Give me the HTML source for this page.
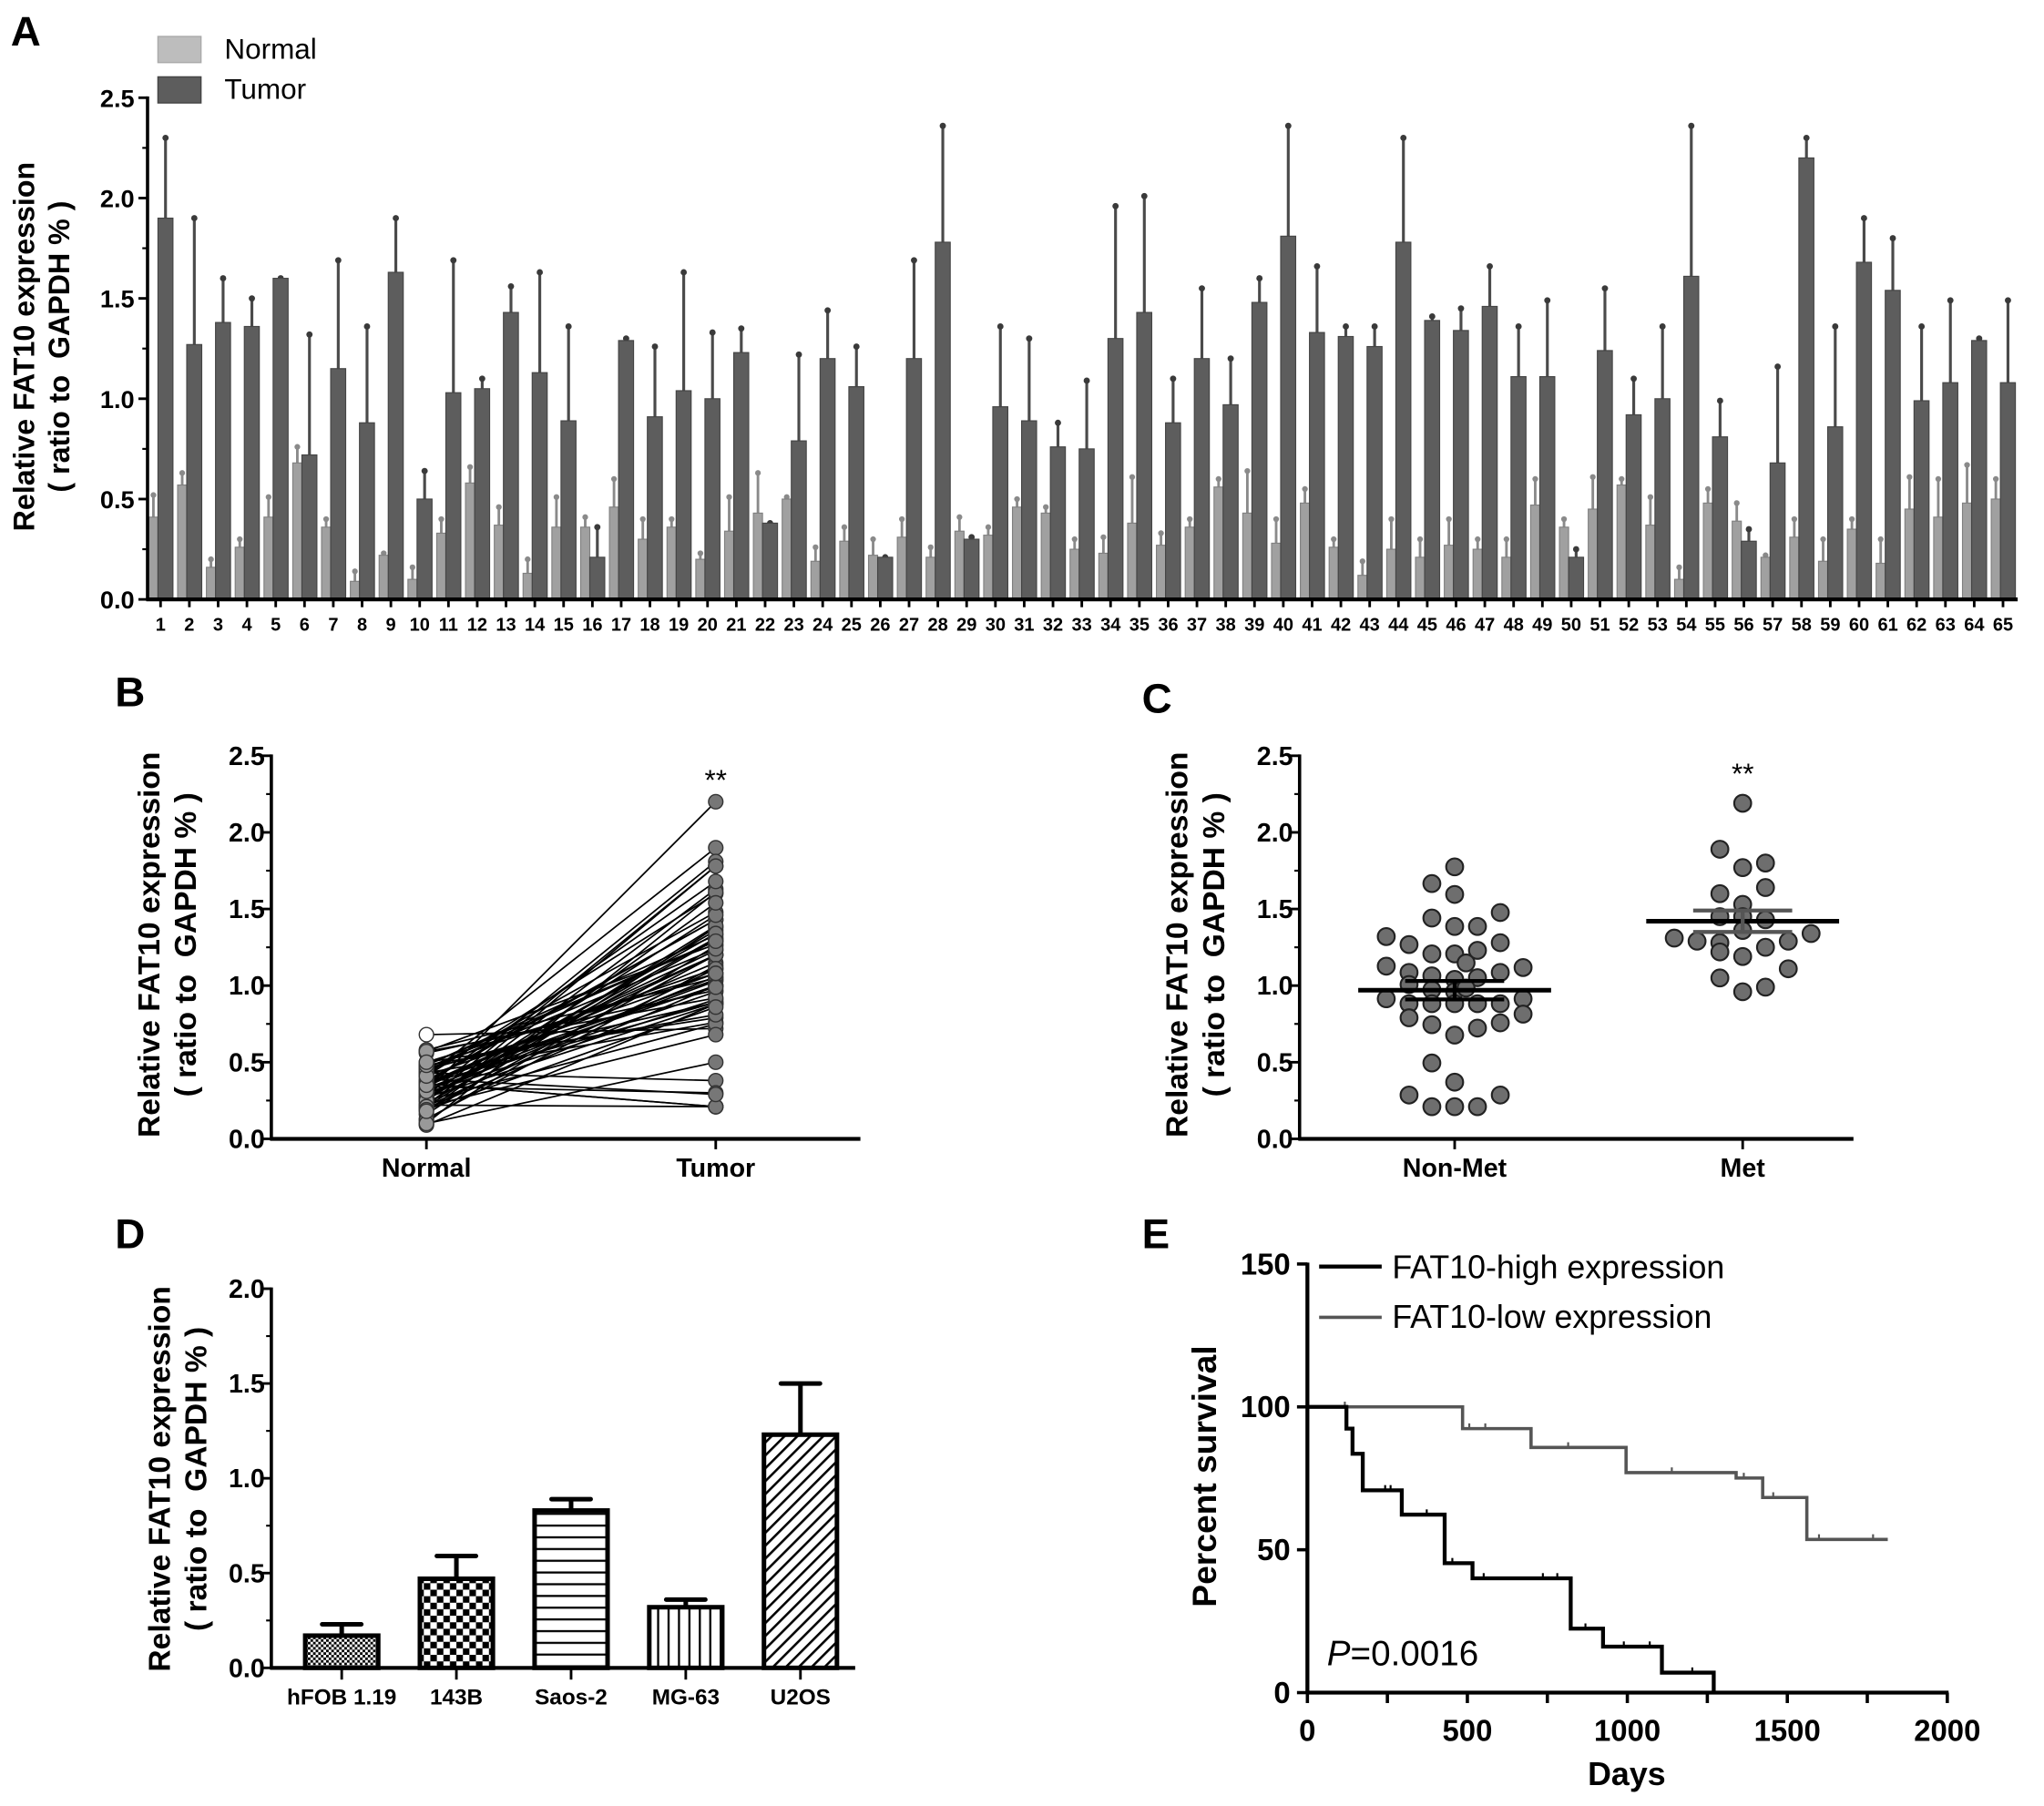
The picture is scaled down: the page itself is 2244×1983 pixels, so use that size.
<!DOCTYPE html>
<html><head><meta charset="utf-8"><style>
html,body{margin:0;padding:0;background:#fff;}
svg{display:block;}
text{font-family:"Liberation Sans",sans-serif;white-space:pre;}
.n{font-family:"Liberation Sans Narrow","Liberation Sans",sans-serif;font-weight:bold;}
</style></head><body>
<svg id="fig" width="2244" height="1983" viewBox="0 0 1568 1386" xmlns="http://www.w3.org/2000/svg">
<defs>
<pattern id="pDots" width="4" height="4" patternUnits="userSpaceOnUse"><rect width="4" height="4" fill="#fff"/><rect width="2" height="2" fill="#000"/><rect x="2" y="2" width="2" height="2" fill="#000"/></pattern>
<pattern id="pCheck" width="10" height="10" patternUnits="userSpaceOnUse"><rect width="10" height="10" fill="#fff"/><rect width="5" height="5" fill="#000"/><rect x="5" y="5" width="5" height="5" fill="#000"/></pattern>
<pattern id="pHor" width="10" height="9" patternUnits="userSpaceOnUse"><rect width="10" height="9" fill="#fff"/><rect y="0" width="10" height="1.6" fill="#000"/></pattern>
<pattern id="pVer" width="8" height="10" patternUnits="userSpaceOnUse"><rect width="8" height="10" fill="#fff"/><rect x="0" width="1.6" height="10" fill="#000"/></pattern>
<pattern id="pDiag" width="7" height="7" patternUnits="userSpaceOnUse" patternTransform="rotate(45)"><rect width="7" height="7" fill="#fff"/><rect width="1.8" height="7" fill="#000"/></pattern>
</defs>
<g id="root"></g>
</svg>
<script>
// ---------- Panel A data ----------
const aCats = Array.from({length:65},(_,i)=>String(i+1));
const aNormal = [0.41,0.57,0.16,0.26,0.41,0.68,0.36,0.09,0.22,0.10,0.33,0.58,0.37,0.13,0.36,0.36,0.46,0.30,0.36,0.20,0.34,0.43,0.50,0.19,0.29,0.22,0.31,0.21,0.34,0.32,0.46,0.43,0.25,0.23,0.38,0.27,0.36,0.56,0.43,0.28,0.48,0.26,0.12,0.25,0.21,0.27,0.25,0.21,0.47,0.36,0.45,0.57,0.37,0.10,0.48,0.39,0.21,0.31,0.19,0.35,0.18,0.45,0.41,0.48,0.50];
const aNormalErr = [0.52,0.63,0.20,0.30,0.51,0.76,0.40,0.14,0.23,0.16,0.40,0.66,0.46,0.20,0.51,0.41,0.60,0.40,0.40,0.23,0.51,0.63,0.51,0.26,0.36,0.30,0.40,0.26,0.41,0.36,0.50,0.46,0.30,0.31,0.61,0.33,0.40,0.60,0.64,0.40,0.55,0.30,0.19,0.40,0.30,0.40,0.30,0.30,0.60,0.40,0.61,0.60,0.51,0.16,0.55,0.48,0.22,0.40,0.30,0.40,0.30,0.61,0.60,0.67,0.60];
const aTumor = [1.90,1.27,1.38,1.36,1.60,0.72,1.15,0.88,1.63,0.50,1.03,1.05,1.43,1.13,0.89,0.21,1.29,0.91,1.04,1.00,1.23,0.38,0.79,1.20,1.06,0.21,1.20,1.78,0.30,0.96,0.89,0.76,0.75,1.30,1.43,0.88,1.20,0.97,1.48,1.81,1.33,1.31,1.26,1.78,1.39,1.34,1.46,1.11,1.11,0.21,1.24,0.92,1.00,1.61,0.81,0.29,0.68,2.20,0.86,1.68,1.54,0.99,1.08,1.29,1.08];
const aTumorErr = [2.30,1.90,1.60,1.50,1.60,1.32,1.69,1.36,1.90,0.64,1.69,1.10,1.56,1.63,1.36,0.36,1.30,1.26,1.63,1.33,1.35,0.38,1.22,1.44,1.26,0.21,1.69,2.36,0.31,1.36,1.30,0.88,1.09,1.96,2.01,1.10,1.55,1.20,1.60,2.36,1.66,1.36,1.36,2.30,1.41,1.45,1.66,1.36,1.49,0.25,1.55,1.10,1.36,2.36,0.99,0.35,1.16,2.30,1.36,1.90,1.80,1.36,1.49,1.30,1.49];
const abTicks = ["0.0","0.5","1.0","1.5","2.0","2.5"];
// ---------- Panel C data ----------
const cNonMet = [1.775,1.666,1.595,1.477,1.441,1.386,1.386,1.32,1.268,1.28,1.207,1.207,1.23,1.148,1.127,1.118,1.086,1.064,1.041,1.052,1.086,1.007,0.973,0.961,0.984,0.914,0.882,0.882,0.882,0.882,0.882,0.914,0.79,0.814,0.745,0.723,0.757,0.677,0.495,0.37,0.286,0.286,0.21,0.21,0.21];
const cNonMetCol = [0,-1,0,2,-1,0,1,-3,-2,2,-1,0,1,0.5,-3,3,-2,-1,0,1,2,-2,-1,0,0.5,-3,-2,-1,0,1,2,3,-2,3,-1,1,2,0,-1,0,-2,2,-1,0,1];
const cMet = [2.19,1.89,1.77,1.80,1.60,1.64,1.53,1.45,1.45,1.43,1.31,1.29,1.28,1.36,1.29,1.34,1.22,1.25,1.19,1.11,1.05,0.99,0.96];
const cMetCol = [0,-1,0,1,-1,1,0,-1,0,1,-3,-2,-1,0,2,3,-1,1,0,2,-1,1,0];
const cMean = [0.97,1.42];
const cSemLo = [0.91,1.35];
const cSemHi = [1.03,1.49];
// ---------- Panel D data ----------
const dCats = ["hFOB 1.19","143B","Saos-2","MG-63","U2OS"];
const dVals = [0.17,0.47,0.83,0.32,1.23];
const dErr = [0.23,0.59,0.89,0.36,1.50];
const dFills = ["url(#pDots)","url(#pCheck)","url(#pHor)","url(#pVer)","url(#pDiag)"];
const dTicks = ["0.0","0.5","1.0","1.5","2.0"];
// ---------- Panel E data ----------
const eHighDays = [0,122,141,173,295,429,516,823,924,1108,1270];
const eHighSurv = [100,92.4,83.6,70.8,62.3,45.3,40,22.4,16.1,7.0,0];
const eHighCensor = [243,260,373,453,551,736,781,869,989,1070,1203];
const eLowDays = [0,485,699,996,1340,1423,1561,1814];
const eLowSurv = [100,92.4,85.8,77.0,75.1,68.3,53.6,53.6];
const eLowCensor = [117,506,556,815,1139,1364,1456,1599,1768];
const eYTicks = [0,50,100,150];
const eXTicks = [0,500,1000,1500,2000];

const NS="http://www.w3.org/2000/svg";
const root=document.getElementById('root');
function mk(tag,attrs,parent){const e=document.createElementNS(NS,tag);for(const k in attrs)e.setAttribute(k,attrs[k]);(parent||root).appendChild(e);return e;}
function txt(s,attrs,parent){const e=mk('text',attrs,parent);e.textContent=s;return e;}
const SUB='( ratio to  GAPDH % )';

// ===== Panel A =====
const gA=mk('g',{});


const aY=v=>460-v*154;
const aX=i=>123+i*22.09;
let t=txt('A',{x:8,y:35,'font-size':32,'font-weight':'bold'},gA);


for(let i=0;i<65;i++){
  const cx=aX(i);
  let e=mk('line',{x1:cx-5.5,x2:cx-5.5,y1:aY(aNormal[i]),y2:aY(aNormalErr[i]),stroke:'#8a8a8a','stroke-width':2},gA);
  
  
  mk('circle',{cx:cx-5.5,cy:aY(aNormalErr[i]),r:2.2,fill:'#8a8a8a'},gA);
  e=mk('rect',{x:cx-9,y:aY(aNormal[i]),width:7,height:460-aY(aNormal[i]),fill:'#a0a0a0',stroke:'#808080','stroke-width':0.8},gA);
  
  
  e=mk('line',{x1:cx+3.8,x2:cx+3.8,y1:aY(aTumor[i]),y2:aY(aTumorErr[i]),stroke:'#4a4a4a','stroke-width':2.2},gA);
  
  
  mk('circle',{cx:cx+3.8,cy:aY(aTumorErr[i]),r:2.4,fill:'#3a3a3a'},gA);
  e=mk('rect',{x:cx-2,y:aY(aTumor[i]),width:11.5,height:460-aY(aTumor[i]),fill:'#5d5d5d',stroke:'#444','stroke-width':0.8},gA);
  
  
  mk('line',{x1:cx,x2:cx,y1:460,y2:466,stroke:'#000','stroke-width':2},gA);
  e=txt(aCats[i],{x:cx,y:484,'font-size':14,'text-anchor':'middle',class:'n'},gA);
  
  
}
mk('line',{x1:113,x2:113,y1:74,y2:461,stroke:'#000','stroke-width':2.5},gA);
mk('line',{x1:112,x2:1548,y1:460,y2:460,stroke:'#000','stroke-width':3},gA);
abTicks.forEach((s,k)=>{const v=+s;mk('line',{x1:106,x2:113,y1:aY(v),y2:aY(v),stroke:'#000','stroke-width':2},gA);
  if(k<abTicks.length-1) mk('line',{x1:109,x2:113,y1:aY(v+0.25),y2:aY(v+0.25),stroke:'#000','stroke-width':1.5},gA);
  const e=txt(s,{x:103,y:aY(v)+7,'font-size':19,'text-anchor':'end',class:'n'},gA);
  
  });
t=txt('Relative FAT10 expression',{transform:'translate(26,266) rotate(-90)','font-size':22.5,'font-weight':'bold','text-anchor':'middle'},gA);


t=txt(SUB,{transform:'translate(53,266) rotate(-90)','font-size':22.5,'font-weight':'bold','text-anchor':'middle'},gA);


let lg=mk('rect',{x:121,y:28,width:33,height:20,fill:'#bdbdbd',stroke:'#aaa'},gA);


lg=txt('Normal',{x:172,y:45,'font-size':22},gA);


lg=mk('rect',{x:121,y:59,width:33,height:20,fill:'#5d5d5d',stroke:'#444'},gA);


lg=txt('Tumor',{x:172,y:76,'font-size':22},gA);



// ===== shared y axis for B/C =====
const bY=v=>874-v*117.6;
function yAxisBC(g,ax,x2,cats,cxs){
  mk('line',{x1:ax,x2:ax,y1:579,y2:875,stroke:'#000','stroke-width':2.5},g);
  mk('line',{x1:ax-1,x2:x2,y1:874,y2:874,stroke:'#000','stroke-width':3},g);
  abTicks.forEach((s,k)=>{const v=+s;mk('line',{x1:ax-7,x2:ax,y1:bY(v),y2:bY(v),stroke:'#000','stroke-width':2},g);
    if(k<abTicks.length-1) mk('line',{x1:ax-4,x2:ax,y1:bY(v+0.25),y2:bY(v+0.25),stroke:'#000','stroke-width':1.5},g);
    const e=txt(s,{x:ax-5,y:bY(v)+7,'font-size':20,'text-anchor':'end',class:'n'},g);
    
    });
  cats.forEach((c,i)=>{mk('line',{x1:cxs[i],x2:cxs[i],y1:874,y2:882,stroke:'#000','stroke-width':2},g);
    const e=txt(c,{x:cxs[i],y:903,'font-size':20,'text-anchor':'middle',class:'n'},g);
    
    });
  let e=txt('Relative FAT10 expression',{transform:`translate(${ax-86},725) rotate(-90)`,'font-size':23.5,'font-weight':'bold','text-anchor':'middle'},g);
  
  
  e=txt(SUB,{transform:`translate(${ax-58},725) rotate(-90)`,'font-size':23.5,'font-weight':'bold','text-anchor':'middle'},g);
  
  
}

// ===== Panel B =====
const gB=mk('g',{});


t=txt('B',{x:88,y:542,'font-size':32,'font-weight':'bold'},gB);


const bXn=327,bXt=549;
for(let i=0;i<65;i++){const e=mk('line',{x1:bXn,y1:bY(aNormal[i]),x2:bXt,y2:bY(aTumor[i]),stroke:'#000','stroke-width':1.2},gB);
  
  }
for(let i=0;i<65;i++){let e=mk('circle',{cx:bXn,cy:bY(aNormal[i]),r:5.5,fill:i==5?'#fff':'#999',stroke:'#333','stroke-width':1},gB);
  
  
  e=mk('circle',{cx:bXt,cy:bY(aTumor[i]),r:5.5,fill:'#777',stroke:'#333','stroke-width':1},gB);
  
  }
yAxisBC(gB,208,660,['Normal','Tumor'],[bXn,bXt]);
t=txt('**',{x:bXt,y:606,'font-size':22,'text-anchor':'middle'},gB);



// ===== Panel C =====
const gC=mk('g',{});


t=txt('C',{x:876,y:547,'font-size':32,'font-weight':'bold'},gC);


const cX=[1116,1337];
[[cNonMet,cNonMetCol],[cMet,cMetCol]].forEach(([vals,cols],g)=>{
  vals.forEach((v,i)=>{const e=mk('circle',{cx:cX[g]+cols[i]*17.5,cy:bY(v),r:6.5,fill:'#6e6e6e',stroke:'#222','stroke-width':1.5},gC);
    
    });
  let e=mk('line',{x1:cX[g]-74,x2:cX[g]+74,y1:bY(cMean[g]),y2:bY(cMean[g]),stroke:'#000','stroke-width':3.5},gC);
  
  
  e=mk('path',{d:`M${cX[g]-38},${bY(cSemHi[g])}H${cX[g]+38}M${cX[g]-38},${bY(cSemLo[g])}H${cX[g]+38}M${cX[g]},${bY(cSemLo[g])}V${bY(cSemHi[g])}`,stroke:g?'#555':'#000','stroke-width':3,fill:'none'},gC);
  
  
});
yAxisBC(gC,997,1422,['Non-Met','Met'],cX);
t=txt('**',{x:1337,y:601,'font-size':22,'text-anchor':'middle'},gC);



// ===== Panel D =====
const gD=mk('g',{});


t=txt('D',{x:88,y:958,'font-size':32,'font-weight':'bold'},gD);


const dY=v=>1280-v*145.5;
const dX=i=>262+i*88;
dVals.forEach((v,i)=>{const cx=dX(i);
  let e=mk('path',{d:`M${cx},${dY(v)}V${dY(dErr[i])}M${cx-15},${dY(dErr[i])}H${cx+15}`,stroke:'#000','stroke-width':3.5,'stroke-linecap':'round',fill:'none'},gD);
  
  
  e=mk('rect',{x:cx-28,y:dY(v),width:56,height:1280-dY(v),fill:dFills[i],stroke:'#000','stroke-width':3.5},gD);
  
  
  mk('line',{x1:cx,x2:cx,y1:1280,y2:1289,stroke:'#000','stroke-width':2},gD);
  e=txt(dCats[i],{x:cx,y:1308,'font-size':17,'text-anchor':'middle',class:'n'},gD);
  
  
});
mk('line',{x1:208,x2:208,y1:988,y2:1281,stroke:'#000','stroke-width':2.5},gD);
mk('line',{x1:207,x2:656,y1:1280,y2:1280,stroke:'#000','stroke-width':3},gD);
dTicks.forEach((s,k)=>{const v=+s;mk('line',{x1:201,x2:208,y1:dY(v),y2:dY(v),stroke:'#000','stroke-width':2},gD);
  if(k<dTicks.length-1) mk('line',{x1:204,x2:208,y1:dY(v+0.25),y2:dY(v+0.25),stroke:'#000','stroke-width':1.5},gD);
  const e=txt(s,{x:203,y:dY(v)+7,'font-size':20,'text-anchor':'end',class:'n'},gD);
  
  });
t=txt('Relative FAT10 expression',{transform:'translate(130,1135) rotate(-90)','font-size':23.5,'font-weight':'bold','text-anchor':'middle'},gD);


t=txt(SUB,{transform:'translate(158,1135) rotate(-90)','font-size':23.5,'font-weight':'bold','text-anchor':'middle'},gD);



// ===== Panel E =====
const gE=mk('g',{});


t=txt('E',{x:876,y:958,'font-size':32,'font-weight':'bold'},gE);


const eX=d=>1003+d*0.2455;
const eY=v=>1299-v*2.193;
function stepPath(days,surv){let d=`M${eX(days[0])},${eY(surv[0])}`;for(let i=1;i<days.length;i++){d+=`H${eX(days[i])}V${eY(surv[i])}`;}return d;}
function survAt(days,surv,x){let s=surv[0];for(let i=0;i<days.length;i++){if(days[i]<=x)s=surv[i];}return s;}
let lowPath=mk('path',{d:stepPath(eLowDays,eLowSurv),stroke:'#555','stroke-width':2.5,fill:'none'},gE);


eLowCensor.forEach(d=>{const e=mk('line',{x1:eX(d),x2:eX(d),y1:eY(survAt(eLowDays,eLowSurv,d)),y2:eY(survAt(eLowDays,eLowSurv,d))-4,stroke:'#555','stroke-width':1.5},gE);
  
  });
let highPath=mk('path',{d:stepPath(eHighDays,eHighSurv),stroke:'#000','stroke-width':3,fill:'none'},gE);


eHighCensor.forEach(d=>{const e=mk('line',{x1:eX(d),x2:eX(d),y1:eY(survAt(eHighDays,eHighSurv,d)),y2:eY(survAt(eHighDays,eHighSurv,d))-4,stroke:'#000','stroke-width':1.5},gE);
  
  });
mk('line',{x1:1003,x2:1003,y1:969,y2:1300,stroke:'#000','stroke-width':3},gE);
mk('line',{x1:1002,x2:1495,y1:1299,y2:1299,stroke:'#000','stroke-width':3},gE);
eYTicks.forEach(v=>{mk('line',{x1:995,x2:1003,y1:eY(v),y2:eY(v),stroke:'#000','stroke-width':2.5},gE);
  const e=txt(String(v),{x:990,y:eY(v)+8,'font-size':23,'text-anchor':'end','font-weight':'bold'},gE);
  
  });
for(let d=0;d<=2000;d+=250){mk('line',{x1:eX(d),x2:eX(d),y1:1299,y2:1307,stroke:'#000','stroke-width':2.5},gE);}
eXTicks.forEach(d=>{const e=txt(String(d),{x:eX(d),y:1336,'font-size':23,'text-anchor':'middle','font-weight':'bold'},gE);
  
  });
t=txt('Days',{x:1248,y:1370,'font-size':25,'font-weight':'bold','text-anchor':'middle'},gE);


t=txt('Percent survival',{transform:'translate(933,1133) rotate(-90)','font-size':26,'font-weight':'bold','text-anchor':'middle'},gE);


let le=mk('line',{x1:1012,x2:1060,y1:972,y2:972,stroke:'#000','stroke-width':3},gE);


le=txt('FAT10-high expression',{x:1068,y:981,'font-size':25},gE);


le=mk('line',{x1:1012,x2:1060,y1:1011,y2:1011,stroke:'#555','stroke-width':2.5},gE);


le=txt('FAT10-low expression',{x:1068,y:1019,'font-size':25},gE);


t=txt('',{x:1018,y:1278,'font-size':27},gE);
const ti=document.createElementNS(NS,'tspan');ti.setAttribute('font-style','italic');ti.textContent='P';t.appendChild(ti);
const tr=document.createElementNS(NS,'tspan');tr.textContent='=0.0016';t.appendChild(tr);


</script>
</body></html>
